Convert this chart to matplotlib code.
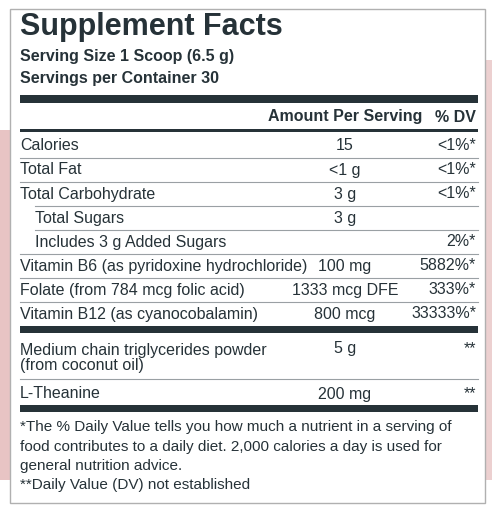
import matplotlib
matplotlib.use("Agg")
import matplotlib.pyplot as plt
from matplotlib.patches import Rectangle

INK = "#263238"
FONT = ["Liberation Sans Narrow", "Liberation Sans", "DejaVu Sans"]

names = ["Calories", "Total Fat", "Total Carbohydrate", "Total Sugars",
         "Includes 3 g Added Sugars",
         "Vitamin B6 (as pyridoxine hydrochloride)",
         "Folate (from 784 mcg folic acid)",
         "Vitamin B12 (as cyanocobalamin)"]
indent = [0, 0, 0, 1, 1, 0, 0, 0]
amounts = ["15", "<1 g", "3 g", "3 g", "", "100 mg", "1333 mcg DFE", "800 mcg"]
dvs = ["<1%*", "<1%*", "<1%*", "", "2%*", "5882%*", "333%*", "33333%*"]

other_names = ["Medium chain triglycerides powder\n(from coconut oil)", "L-Theanine"]
other_amounts = ["5 g", "200 mg"]
other_dvs = ["**", "**"]

footnotes = ["*The % Daily Value tells you how much a nutrient in a serving of",
             "food contributes to a daily diet. 2,000 calories a day is used for",
             "general nutrition advice.",
             "**Daily Value (DV) not established"]

fig = plt.figure(figsize=(4.92, 5.07), dpi=100)
ax = fig.add_axes([0, 0, 1, 1])
ax.set_xlim(0, 492)
ax.set_ylim(507, 0)
ax.axis("off")

# pinkish background edges
ax.add_patch(Rectangle((0, 130), 10, 350, color="#e8c4c4", lw=0))
ax.add_patch(Rectangle((485, 60), 7, 420, color="#ecd0d0", lw=0))
# panel border
ax.add_patch(Rectangle((10, 9), 475, 494, facecolor="white", edgecolor="#b0b0b0", lw=1))

L, R = 20, 478
amt_x, dv_x = 345, 476
fs = 11.5

def txt(x, y, s, **kw):
    kw.setdefault("fontsize", fs)
    kw.setdefault("family", FONT)
    ax.text(x, y, s, color=INK, va="center", **kw)

def bar(y, h):
    ax.add_patch(Rectangle((L, y), R - L, h, color=INK, lw=0))

def rule(y, x0=L):
    ax.plot([x0, R], [y, y], color="#9aa0a4", lw=0.8)

txt(L, 27, "Supplement Facts", fontsize=22, fontweight="bold",
    family=["Liberation Sans", "DejaVu Sans"])
txt(L, 57, "Serving Size 1 Scoop (6.5 g)", fontweight="bold")
txt(L, 79, "Servings per Container 30", fontweight="bold")
bar(95, 8)
txt(amt_x, 117, "Amount Per Serving", ha="center", fontweight="bold")
txt(dv_x, 117, "% DV", ha="right", fontweight="bold")
bar(129, 3)

y0, step = 146, 24
for i, (n, a, d) in enumerate(zip(names, amounts, dvs)):
    y = y0 + i * step
    txt(L + 15 * indent[i], y, n)
    txt(amt_x, y, a, ha="center")
    txt(dv_x, y, d, ha="right")
    if i < len(names) - 1:
        rule(y + 12, L + 15 * indent[i + 1] if indent[i + 1] else L)
bar(326, 7)

txt(L, 358, other_names[0], linespacing=0.95)
txt(amt_x, 349, other_amounts[0], ha="center")
txt(dv_x, 349, other_dvs[0], ha="right")
rule(379)
txt(L, 394, other_names[1])
txt(amt_x, 394, other_amounts[1], ha="center")
txt(dv_x, 394, other_dvs[1], ha="right")
bar(405, 7)

for i, f in enumerate(footnotes):
    txt(L, 427 + i * 19.5, f, fontsize=11)

fig.savefig("out.png", dpi=100, facecolor="white")
